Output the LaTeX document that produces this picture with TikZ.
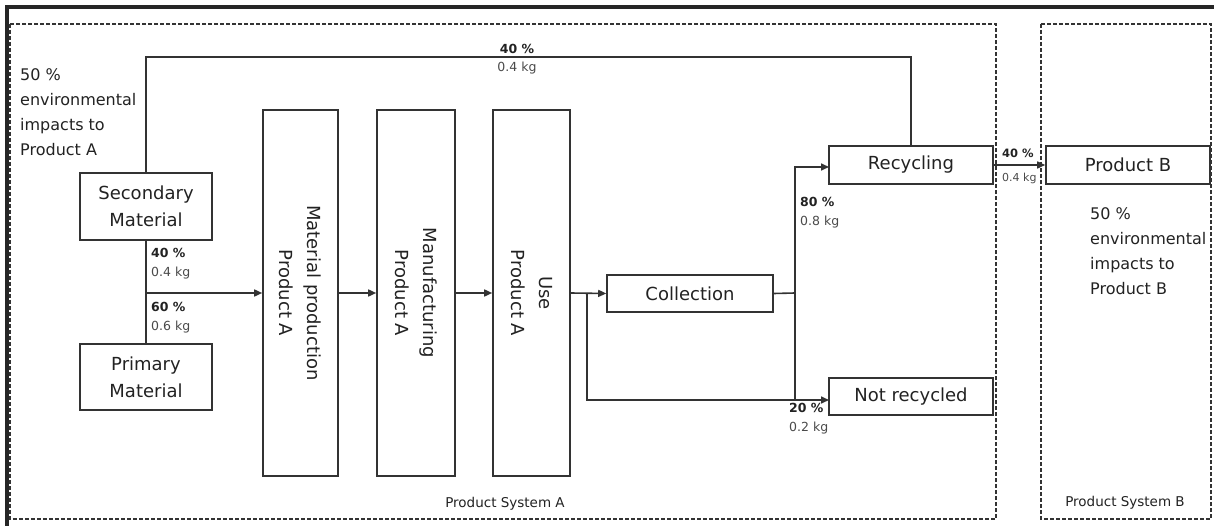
\documentclass[tikz,border=0pt]{standalone}
\usepackage{fontspec}
\setmainfont{DejaVu Sans}
\usetikzlibrary{arrows.meta,calc}
\definecolor{lncol}{HTML}{333333}
\definecolor{tx}{HTML}{222222}
\definecolor{tl}{HTML}{4A4A4A}
\begin{document}
\begin{tikzpicture}[x=1pt,y=-1pt,
  box/.style={draw=lncol,line width=1.6pt,inner sep=0pt,align=center,text=tx,font=\fontsize{18}{27}\selectfont},
  vtext/.style={rotate=-90,align=center,text=tx,font=\fontsize{18}{28}\selectfont,inner sep=0pt},
  arr/.style={draw=lncol,line width=1.6pt,-{Triangle[length=8pt,width=7pt]}},
  conn/.style={draw=lncol,line width=1.6pt},
  sysbox/.style={draw=lncol,line width=1.1pt,dash pattern=on 4pt off 2pt},
  pct/.style={font=\bfseries\fontsize{12.5}{20}\selectfont,text=tx,inner sep=0pt},
  kg/.style={font=\fontsize{12.5}{20}\selectfont,text=tl,inner sep=0pt},
  lbl/.style={inner sep=0pt,align=left,font=\fontsize{12.5}{19}\selectfont,text=tl},
  big/.style={inner sep=0pt,align=left,text=tx,font=\fontsize{16}{25}\selectfont},
  sys/.style={inner sep=0pt,text=tx,font=\fontsize{13.5}{16}\selectfont}]
\useasboundingbox (0,0) rectangle (1214,526);
% frame
\draw[line width=3.5pt,black!85] (7,526) -- (7,7) -- (1214,7);
\draw[sysbox] (10,24) rectangle (996,519);
\draw[sysbox] (1041,24) rectangle (1211,519);
\node[sys] (sysA) at (505,504) {Product System A};
\node[sys] (sysB) at (1125,503) {Product System B};
% nodes
\node[box,minimum width=132pt,minimum height=67pt] (sec) at (146,206.5) {Secondary\\Material};
\node[box,minimum width=132pt,minimum height=66pt] (prim) at (146,377) {Primary\\Material};
\node[box,minimum width=75pt,minimum height=366pt] (mat) at (300.5,293) {};
\node[vtext] (matt) at (mat.center) {Material production\\Product A};
\node[box,minimum width=78pt,minimum height=366pt] (man) at (416,293) {};
\node[vtext] (mant) at (man.center) {Manufacturing\\Product A};
\node[box,minimum width=77pt,minimum height=366pt] (use) at (531.5,293) {};
\node[vtext] (uset) at (use.center) {Use\\Product A};
\node[box,minimum width=166pt,minimum height=37pt] (col) at (690,293.5) {Collection};
\node[box,minimum width=164pt,minimum height=38pt] (rec) at (911,165) {Recycling};
\node[box,minimum width=164pt,minimum height=37pt] (nr) at (911,396.5) {Not recycled};
\node[box,minimum width=164pt,minimum height=38pt] (pb) at (1128,165) {Product B};
% coordinates
\coordinate (top) at (146,57);
\coordinate (j1) at (146,293);
\coordinate (j2) at (587,293);
\coordinate (j3) at (795,293);
\coordinate (nrin) at (829,400);
\coordinate (recin) at (829,167);
\coordinate (j4) at (795,400);
% connectors
\draw[conn] (sec.north) -- (top) -| (rec.north);
\draw[conn] (sec.south) -- (prim.north);
\draw[arr] (j1) -- (mat.west);
\draw[arr] (mat.east) -- (man.west);
\draw[arr] (man.east) -- (use.west);
\draw[arr] (use.east) -- (col.west);
\draw[arr] (j2) |- (nrin);
\draw[conn] (col.east) -- (j3) -- (j4);
\draw[arr] (j3) |- (recin);
\draw[arr] (rec.east) -- (pb.west);
% labels
\node[pct] (l1a) at (517,49) {40 \%};
\node[kg] (l1b) at (517,68) {0.4 kg};
\node[lbl,anchor=north west] (l2) at (151,248) {\textbf{\color{tx}40 \%}\\0.4 kg};
\node[lbl,anchor=north west] (l3) at (151,302) {\textbf{\color{tx}60 \%}\\0.6 kg};
\node[lbl,anchor=north west] (l4) at (800,197) {\textbf{\color{tx}80 \%}\\0.8 kg};
\node[lbl,anchor=north west] (l5) at (789,403) {\textbf{\color{tx}20 \%}\\0.2 kg};
\node[pct,anchor=west,font=\bfseries\fontsize{11.5}{14}\selectfont] (l6a) at (1002,153) {40 \%};
\node[kg,anchor=west,font=\fontsize{11}{14}\selectfont] (l6b) at (1002,178) {0.4 kg};
\node[big,anchor=north west] (impA) at (20,68) {50 \%\\environmental\\impacts to\\Product A};
\node[big,anchor=north west] (impB) at (1090,207) {50 \%\\environmental\\impacts to\\Product B};
\end{tikzpicture}
\end{document}
